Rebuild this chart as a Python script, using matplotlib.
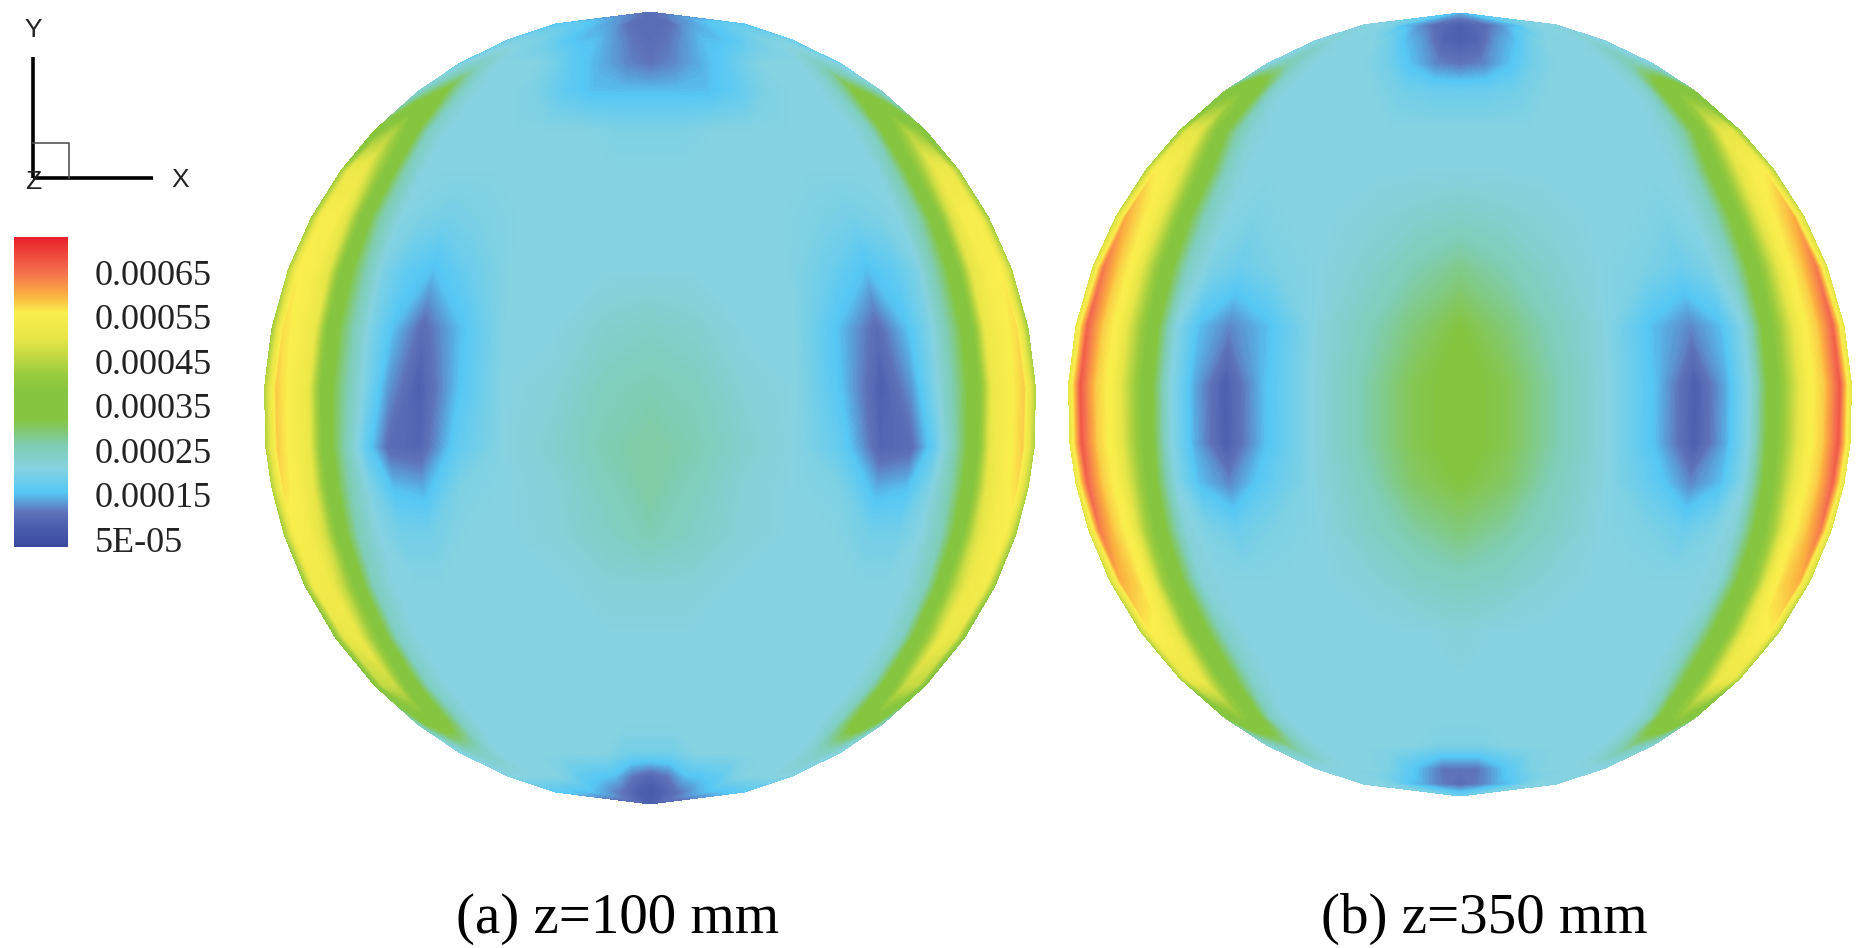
import numpy as np
import matplotlib
matplotlib.use('Agg')
import matplotlib.pyplot as plt
from matplotlib.colors import LinearSegmentedColormap, Normalize
from matplotlib.cm import ScalarMappable

W, H = 1865, 948

# rows run top to bottom of the section, columns run from the axis to the rim
row_pos = [1, .97, .93, .87, .8, .7, .6, .48, .35, .2, .05, -.1, -.2, -.32, -.45, -.58, -.7, -.8, -.87, -.93, -.97, -1]
col_pos = [0, .12, .25, .38, .5, .6, .68, .74, .8, .85, .89, .93, .97, 1]

# values, in units of 1e-5
field_a = [
    [10, 10, 10, 10, 10, 10, 10, 10, 10, 10, 10, 10, 10, 10],
    [10, 10, 11, 13, 14, 15, 16, 16, 17, 17, 17, 17, 16, 16],
    [10, 11, 13, 15, 15, 16, 18, 19, 20, 20, 20, 20, 19, 17],
    [11, 12, 14, 16, 19, 21, 21, 21, 21, 23, 24, 23, 21, 18],
    [15, 15, 15, 17, 20, 21, 21, 21, 23, 28, 33, 30, 26, 22],
    [20, 20, 21, 21, 21, 21, 21, 21, 24, 33, 38, 44, 40, 33],
    [21, 21, 21, 21, 21, 21, 21, 21, 27, 36, 44, 52, 52, 42],
    [21, 21, 21, 21, 20, 19, 20, 21, 27, 36, 48, 55, 55, 42],
    [21, 21, 21, 21, 18, 15, 17, 20, 28, 36, 50, 55, 56, 44],
    [24, 23, 21, 21, 15, 10, 15, 20, 28, 36, 52, 55, 57, 42],
    [26, 25, 22, 21, 15, 8, 13, 20, 28, 36, 52, 55, 58, 44],
    [27, 26, 23, 21, 17, 9, 10, 17, 27, 36, 52, 55, 58, 44],
    [27, 25, 22, 21, 20, 14, 15, 20, 27, 36, 50, 55, 57, 44],
    [26, 24, 22, 21, 21, 19, 19, 21, 26, 36, 48, 54, 55, 42],
    [22, 22, 21, 21, 21, 21, 21, 21, 25, 36, 46, 53, 54, 40],
    [21, 21, 21, 21, 21, 21, 21, 21, 24, 35, 43, 52, 50, 38],
    [21, 21, 21, 21, 21, 21, 21, 21, 24, 33, 38, 47, 46, 36],
    [21, 21, 21, 21, 21, 21, 21, 21, 24, 30, 34, 35, 30, 24],
    [19, 19, 21, 21, 21, 21, 21, 21, 21, 23, 24, 24, 22, 20],
    [9, 11, 15, 16, 17, 20, 21, 21, 21, 21, 21, 21, 21, 20],
    [7, 8, 10, 12, 14, 15, 15, 15, 15, 16, 16, 16, 16, 16],
    [8, 8, 8, 8, 8, 8, 8, 8, 8, 8, 8, 8, 8, 8],
]
field_b = [
    [14, 14, 14, 14, 14, 14, 14, 14, 14, 14, 14, 14, 14, 14],
    [8, 9, 10, 12, 14, 15, 19, 20, 21, 21, 21, 21, 21, 21],
    [8, 9, 13, 15, 19, 21, 21, 21, 21, 21, 22, 22, 21, 20],
    [11, 12, 15, 19, 21, 21, 21, 21, 22, 24, 26, 25, 22, 20],
    [18, 18, 19, 21, 21, 21, 21, 21, 23, 31, 36, 38, 36, 30],
    [21, 21, 21, 21, 21, 21, 21, 22, 27, 34, 42, 50, 50, 42],
    [21, 21, 21, 21, 21, 21, 21, 24, 33, 42, 50, 55, 56, 44],
    [24, 23, 22, 21, 21, 20, 21, 25, 34, 46, 54, 57, 60, 46],
    [28, 26, 23, 21, 20, 18, 20, 24, 35, 46, 55, 58, 64, 48],
    [32, 29, 25, 21, 15, 12, 15, 21, 35, 46, 55, 58, 66, 50],
    [33, 31, 26, 21, 15, 8, 14, 21, 35, 46, 55, 58, 67, 50],
    [33, 31, 26, 21, 15, 8, 14, 21, 35, 46, 55, 58, 67, 50],
    [32, 30, 25, 21, 17, 12, 15, 21, 34, 46, 55, 58, 66, 50],
    [29, 27, 24, 21, 20, 18, 20, 22, 33, 44, 55, 58, 64, 48],
    [25, 24, 22, 21, 21, 21, 21, 22, 33, 42, 54, 58, 60, 46],
    [22, 21, 21, 21, 21, 21, 21, 24, 33, 40, 50, 55, 56, 44],
    [21, 21, 21, 21, 21, 21, 21, 23, 31, 36, 44, 52, 52, 44],
    [21, 21, 21, 21, 21, 21, 21, 21, 24, 32, 37, 40, 36, 30],
    [20, 20, 21, 21, 21, 21, 21, 21, 23, 26, 28, 26, 24, 22],
    [11, 11, 14, 17, 20, 21, 21, 21, 21, 21, 21, 21, 21, 21],
    [10, 11, 12, 14, 15, 17, 19, 20, 21, 21, 21, 21, 21, 21],
    [18, 18, 18, 18, 18, 18, 18, 18, 18, 18, 18, 18, 18, 18],
]

captions = ['(a) z=100 mm', '(b) z=350 mm']
tick_values = [5e-5, 15e-5, 25e-5, 35e-5, 45e-5, 55e-5, 65e-5]
tick_labels = ['5E-05', '0.00015', '0.00025', '0.00035', '0.00045', '0.00055', '0.00065']

stops = [3.2, 8, 11, 15.5, 21, 26, 32, 38, 42, 50, 56, 60, 65, 73]
stop_colors = ['#3a4a9f', '#4c5fae', '#5f73bb', '#56c8f5', '#85d2e0', '#7fcdb4', '#85c540',
               '#85c540', '#9acb3e', '#e6e547', '#faee4e', '#fbb040', '#f4714f', '#e8202a']
vmin, vmax = stops[0] * 1e-5, stops[-1] * 1e-5
cmap = LinearSegmentedColormap.from_list(
    'field', [((s - stops[0]) / (stops[-1] - stops[0]), c) for s, c in zip(stops, stop_colors)], N=512)
norm = Normalize(vmin, vmax)
levels = np.linspace(vmin, vmax, 300)


def px_axes(fig, left, top, right, bottom):
    return fig.add_axes([left / W, 1 - bottom / H, (right - left) / W, (bottom - top) / H])


def draw_section(fig, box, field):
    ax = px_axes(fig, *box)
    half = np.array(field) * 1e-5
    z = np.hstack([half[:, :0:-1], half])
    s = np.array(col_pos)
    s = np.concatenate([-s[:0:-1], s])
    v = np.array(row_pos)
    chord = np.sqrt(1 - v ** 2)
    x = np.outer(chord, s)
    y = np.outer(v, np.ones_like(s))
    ax.contourf(x, y, z, levels=levels, cmap=cmap, norm=norm, extend='both', antialiased=False)
    ax.set_xlim(-1, 1)
    ax.set_ylim(-1, 1)
    ax.axis('off')


fig = plt.figure(figsize=(W / 100, H / 100), dpi=100)
plt.rcParams['font.family'] = ['Liberation Serif', 'DejaVu Serif']

draw_section(fig, (264, 12, 1036, 804), field_a)
draw_section(fig, (1068, 13, 1852, 796), field_b)

# colour bar
cax = px_axes(fig, 14, 237, 68, 547)
cb = fig.colorbar(ScalarMappable(norm=norm, cmap=cmap), cax=cax, ticks=tick_values)
cb.ax.set_yticklabels(tick_labels, fontsize=26, color='#222222')
cb.ax.tick_params(length=0, pad=19)
cb.outline.set_visible(False)

# orientation triad, drawn in pixel coordinates on a full figure overlay
over = fig.add_axes([0, 0, 1, 1])
over.set_xlim(0, W)
over.set_ylim(H, 0)
over.axis('off')
over.patch.set_alpha(0)
over.plot([33, 33], [57, 178], color='black', lw=2.6, solid_capstyle='butt')
over.plot([33, 153], [178, 178], color='black', lw=2.6, solid_capstyle='butt')
over.plot([33, 69, 69], [143, 143, 178], color='#555555', lw=1.2)
sans = ['Liberation Sans', 'DejaVu Sans']
over.text(33, 30, 'Y', family=sans, fontsize=19, ha='center', va='center', color='#222222')
over.text(180, 180, 'X', family=sans, fontsize=19, ha='center', va='center', color='#222222')
over.text(33, 182, 'Z', family=sans, fontsize=19, ha='center', va='center', color='#222222')

over.text(618, 919, captions[0], fontsize=41, ha='center', va='center', color='black')
over.text(1484, 919, captions[1], fontsize=41, ha='center', va='center', color='black')

fig.savefig('out.png', dpi=100)
